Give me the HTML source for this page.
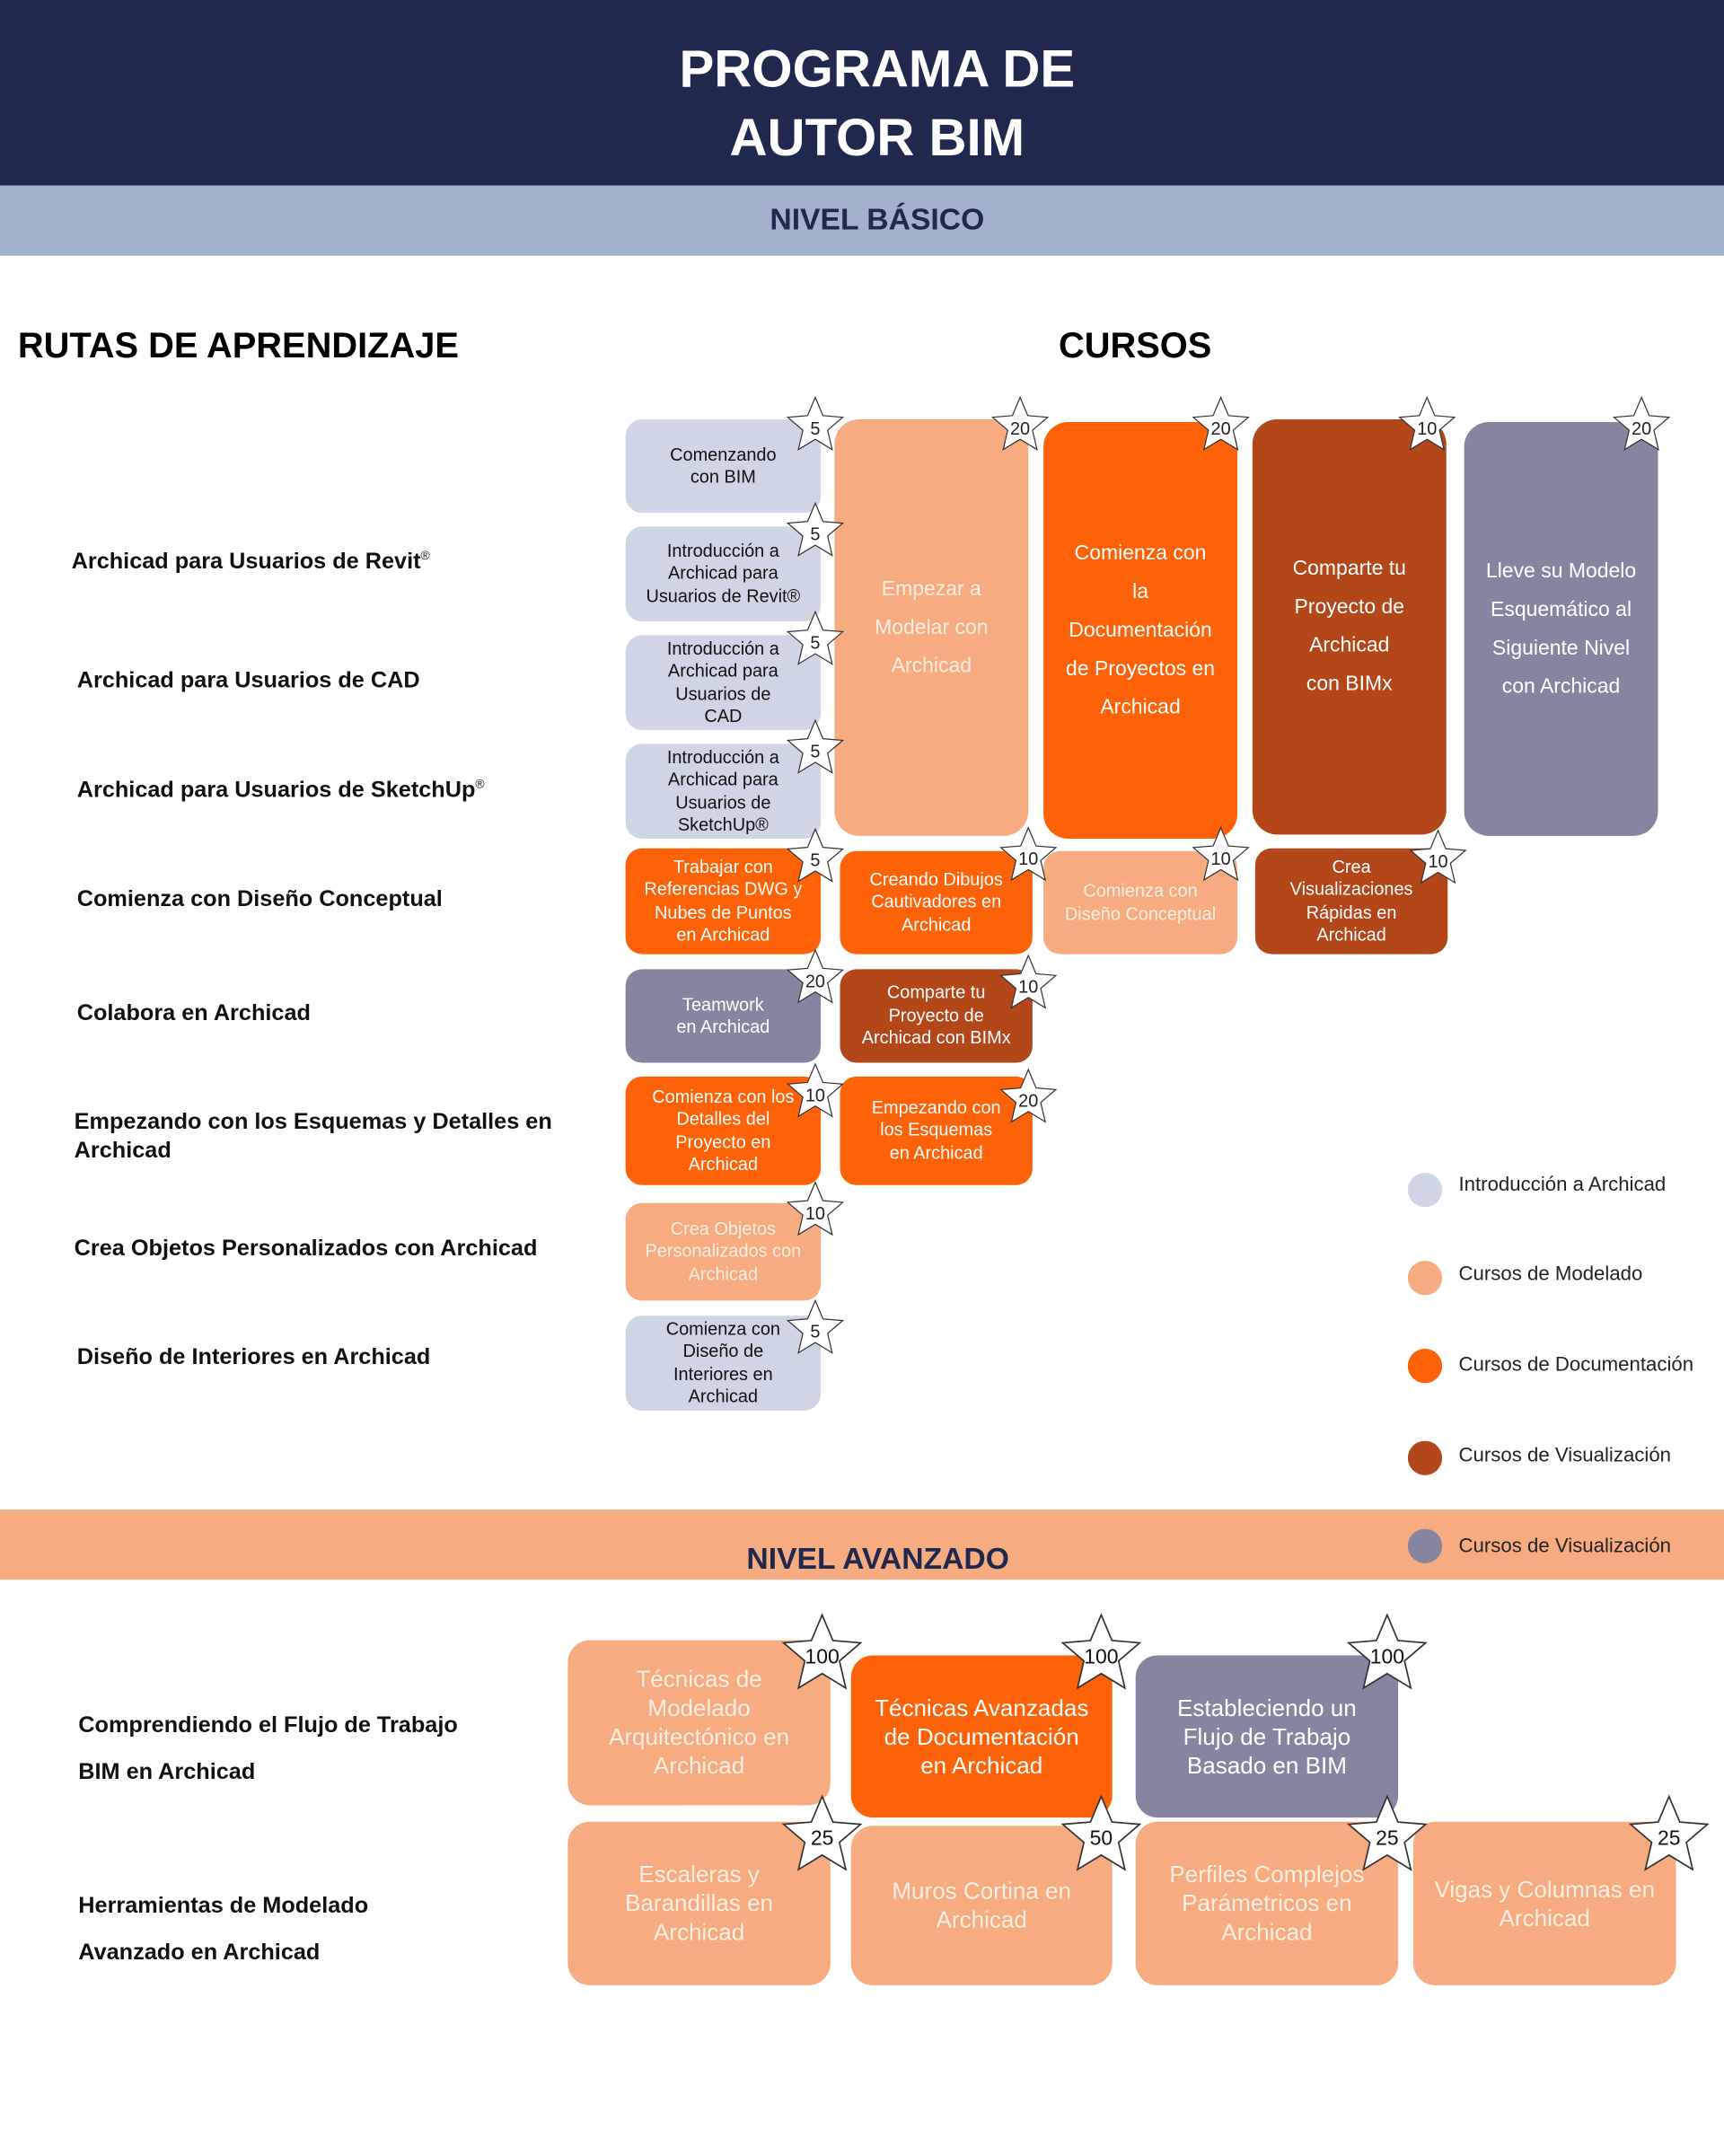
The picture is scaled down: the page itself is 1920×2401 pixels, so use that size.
<!DOCTYPE html>
<html><head><meta charset="utf-8">
<style>
*{margin:0;padding:0;box-sizing:border-box}
html,body{width:1920px;height:2400px;overflow:hidden;background:#fff}
#w{position:absolute;left:0;top:0;width:1254px;height:1568px;transform:scale(1.5311);transform-origin:0 0;font-family:"Liberation Sans",sans-serif}
.a{position:absolute}
.b{position:absolute;border-radius:12px;display:flex;align-items:center;justify-content:center;text-align:center;font-size:13px;line-height:16.5px;padding:0 4px}
.L{background:#d0d5e5;color:#111}
.P{background:#f6ab80;color:#fdeee3}
.O{background:#fe6208;color:#fff}
.R{background:#b3471a;color:#fff}
.G{background:#86859f;color:#fff}
.big{font-size:15px;line-height:28px}
.adv{font-size:17px;line-height:21px;border-radius:16px}
.lab{position:absolute;font-weight:bold;font-size:16.5px;color:#111}
.st{position:absolute;overflow:visible}
.lg{position:absolute;left:1024px;width:25px;height:25px;border-radius:50%}
.lt{position:absolute;left:1061px;font-size:14.5px;color:#222}
</style></head><body><div id="w">
<div class="a" style="left:0;top:0;width:1254px;height:135px;background:#20284d"></div>
<div class="a" style="left:0;top:26px;width:1276px;text-align:center;color:#fff;font-weight:bold;font-size:38px;line-height:50px">PROGRAMA DE<br>AUTOR BIM</div>
<div class="a" style="left:0;top:135px;width:1254px;height:51px;background:#a3b1cc"></div>
<div class="a" style="left:0;top:147px;width:1276px;text-align:center;color:#20284d;font-weight:bold;font-size:22px">NIVEL BÁSICO</div>
<div class="a" style="left:13px;top:236px;font-weight:bold;font-size:26px;color:#000">RUTAS DE APRENDIZAJE</div>
<div class="a" style="left:770px;top:236px;font-weight:bold;font-size:26px;color:#000">CURSOS</div>

<div class="lab" style="left:52px;top:399px">Archicad para Usuarios de Revit<sup style="font-size:9px;font-weight:normal">®</sup></div>
<div class="lab" style="left:56px;top:486px">Archicad para Usuarios de CAD</div>
<div class="lab" style="left:56px;top:565px">Archicad para Usuarios de SketchUp<sup style="font-size:9px;font-weight:normal">®</sup></div>
<div class="lab" style="left:56px;top:645px">Comienza con Diseño Conceptual</div>
<div class="lab" style="left:56px;top:728px">Colabora en Archicad</div>
<div class="lab" style="left:54px;top:806px;line-height:21px">Empezando con los Esquemas y Detalles en<br>Archicad</div>
<div class="lab" style="left:54px;top:899px">Crea Objetos Personalizados con Archicad</div>
<div class="lab" style="left:56px;top:978px">Diseño de Interiores en Archicad</div>

<div class="b L" style="left:455px;top:305px;width:142px;height:68px">Comenzando<br>con BIM</div>
<div class="b L" style="left:455px;top:383px;width:142px;height:69px">Introducción a<br>Archicad para<br>Usuarios de Revit®</div>
<div class="b L" style="left:455px;top:462px;width:142px;height:69px">Introducción a<br>Archicad para<br>Usuarios de<br>CAD</div>
<div class="b L" style="left:455px;top:541px;width:142px;height:69px">Introducción a<br>Archicad para<br>Usuarios de<br>SketchUp®</div>
<div class="b O" style="left:455px;top:617px;width:142px;height:77px">Trabajar con<br>Referencias DWG y<br>Nubes de Puntos<br>en Archicad</div>
<div class="b G" style="left:455px;top:705px;width:142px;height:68px">Teamwork<br>en Archicad</div>
<div class="b O" style="left:455px;top:783px;width:142px;height:79px">Comienza con los<br>Detalles del<br>Proyecto en<br>Archicad</div>
<div class="b P" style="left:455px;top:875px;width:142px;height:71px">Crea Objetos<br>Personalizados con<br>Archicad</div>
<div class="b L" style="left:455px;top:957px;width:142px;height:69px">Comienza con<br>Diseño de<br>Interiores en<br>Archicad</div>

<div class="b P big" style="left:607px;top:305px;width:141px;height:303px;border-radius:18px">Empezar a<br>Modelar con<br>Archicad</div>
<div class="b O" style="left:611px;top:619px;width:140px;height:75px">Creando Dibujos<br>Cautivadores en<br>Archicad</div>
<div class="b R" style="left:611px;top:705px;width:140px;height:68px">Comparte tu<br>Proyecto de<br>Archicad con  BIMx</div>
<div class="b O" style="left:611px;top:783px;width:140px;height:79px">Empezando con<br>los Esquemas<br>en  Archicad</div>

<div class="b O big" style="left:759px;top:307px;width:141px;height:303px;border-radius:18px">Comienza con<br>la<br>Documentación<br>de Proyectos en<br>Archicad</div>
<div class="b P" style="left:759px;top:619px;width:141px;height:75px">Comienza con<br>Diseño Conceptual</div>

<div class="b R big" style="left:911px;top:305px;width:141px;height:302px;border-radius:18px">Comparte tu<br>Proyecto de<br>Archicad<br>con BIMx</div>
<div class="b R" style="left:913px;top:617px;width:140px;height:77px">Crea<br>Visualizaciones<br>Rápidas en<br>Archicad</div>

<div class="b G big" style="left:1065px;top:307px;width:141px;height:301px;border-radius:18px">Lleve su Modelo<br>Esquemático al<br>Siguiente Nivel<br>con Archicad</div>

<div class="lg" style="top:853px;background:#d0d5e5"></div><div class="lt" style="top:854px">Introducción a Archicad</div>
<div class="lg" style="top:917px;background:#f6ab80"></div><div class="lt" style="top:919px">Cursos de Modelado</div>
<div class="lg" style="top:981px;background:#fe6208"></div><div class="lt" style="top:985px">Cursos de Documentación</div>
<div class="lg" style="top:1048px;background:#b3471a"></div><div class="lt" style="top:1051px">Cursos de Visualización</div>

<div class="a" style="left:0;top:1098px;width:1254px;height:51px;background:#f6ab80"></div>
<div class="lg" style="top:1112px;background:#86859f"></div><div class="lt" style="top:1117px">Cursos de Visualización</div>
<div class="a" style="left:543px;top:1121px;color:#20284d;font-weight:bold;font-size:22px">NIVEL AVANZADO</div>

<div class="lab" style="left:57px;top:1238px;line-height:34px">Comprendiendo el Flujo de Trabajo<br>BIM en Archicad</div>
<div class="lab" style="left:57px;top:1369px;line-height:34px">Herramientas de Modelado<br>Avanzado en Archicad</div>

<div class="b P adv" style="left:413px;top:1193px;width:191px;height:120px">Técnicas de<br>Modelado<br>Arquitectónico en<br>Archicad</div>
<div class="b O adv" style="left:619px;top:1204px;width:190px;height:118px;color:#fff">Técnicas Avanzadas<br>de Documentación<br>en Archicad</div>
<div class="b G adv" style="left:826px;top:1204px;width:191px;height:118px">Estableciendo un<br>Flujo de Trabajo<br>Basado en BIM</div>
<div class="b P adv" style="left:413px;top:1325px;width:191px;height:119px">Escaleras y<br>Barandillas en<br>Archicad</div>
<div class="b P adv" style="left:619px;top:1328px;width:190px;height:116px">Muros Cortina en<br>Archicad</div>
<div class="b P adv" style="left:826px;top:1325px;width:191px;height:119px">Perfiles Complejos<br>Parámetricos en<br>Archicad</div>
<div class="b P adv" style="left:1028px;top:1325px;width:191px;height:119px">Vigas y Columnas en<br>Archicad</div>

<svg class="st" style="left:0;top:0" width="1254" height="1568" font-family="Liberation Sans, sans-serif">
<defs><polygon id="s" points="0,-21 5.6,-7.7 20,-6.5 9,2.9 12.3,17 0,9.5 -12.3,17 -9,2.9 -20,-6.5 -5.6,-7.7" fill="#fff" stroke="#333" stroke-width="0.8"/></defs>
<g font-size="13" text-anchor="middle" fill="#222">
<use href="#s" x="593" y="310"/><text x="593" y="316">5</text>
<use href="#s" x="593" y="387"/><text x="593" y="393">5</text>
<use href="#s" x="593" y="466"/><text x="593" y="472">5</text>
<use href="#s" x="593" y="545"/><text x="593" y="551">5</text>
<use href="#s" x="593" y="624"/><text x="593" y="630">5</text>
<use href="#s" x="593" y="712"/><text x="593" y="718">20</text>
<use href="#s" x="593" y="795"/><text x="593" y="801">10</text>
<use href="#s" x="593" y="881"/><text x="593" y="887">10</text>
<use href="#s" x="593" y="967"/><text x="593" y="973">5</text>
<use href="#s" x="742" y="310"/><text x="742" y="316">20</text>
<use href="#s" x="748" y="623"/><text x="748" y="629">10</text>
<use href="#s" x="748" y="716"/><text x="748" y="722">10</text>
<use href="#s" x="748" y="799"/><text x="748" y="805">20</text>
<use href="#s" x="888" y="310"/><text x="888" y="316">20</text>
<use href="#s" x="888" y="623"/><text x="888" y="629">10</text>
<use href="#s" x="1038" y="310"/><text x="1038" y="316">10</text>
<use href="#s" x="1046" y="625"/><text x="1046" y="631">10</text>
<use href="#s" x="1194" y="310"/><text x="1194" y="316">20</text>
</g>
<g font-size="15" text-anchor="middle" fill="#111">
<g transform="translate(598,1204) scale(1.4)"><use href="#s"/></g><text x="598" y="1210">100</text>
<g transform="translate(801,1204) scale(1.4)"><use href="#s"/></g><text x="801" y="1210">100</text>
<g transform="translate(1009,1204) scale(1.4)"><use href="#s"/></g><text x="1009" y="1210">100</text>
<g transform="translate(598,1336) scale(1.4)"><use href="#s"/></g><text x="598" y="1342">25</text>
<g transform="translate(801,1336) scale(1.4)"><use href="#s"/></g><text x="801" y="1342">50</text>
<g transform="translate(1009,1336) scale(1.4)"><use href="#s"/></g><text x="1009" y="1342">25</text>
<g transform="translate(1214,1336) scale(1.4)"><use href="#s"/></g><text x="1214" y="1342">25</text>
</g>
</svg>
</div></body></html>
